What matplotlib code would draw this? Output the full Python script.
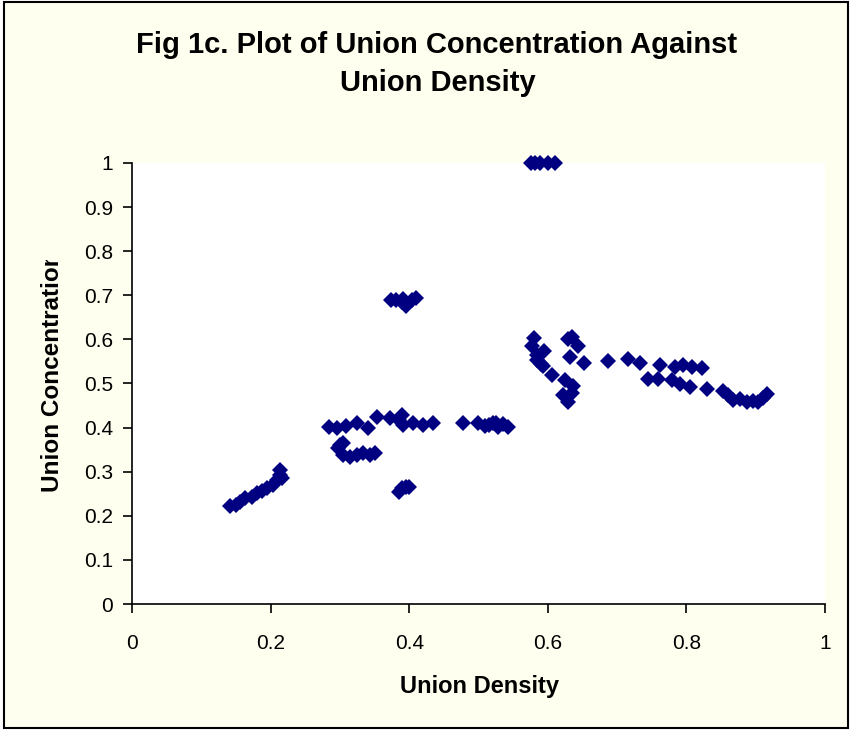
import matplotlib
matplotlib.use('Agg')
import numpy as np
from matplotlib import pyplot as plt
from matplotlib.patches import Rectangle
from matplotlib.transforms import Bbox, TransformedBbox

# data: union density (x) vs union concentration (y)
low_x = [0.141, 0.150, 0.156, 0.163, 0.173, 0.180, 0.188, 0.195, 0.204, 0.209, 0.214, 0.214, 0.216]
low_y = [0.222, 0.224, 0.231, 0.240, 0.243, 0.252, 0.256, 0.263, 0.270, 0.281, 0.293, 0.304, 0.286]

row40_x = [0.284, 0.296, 0.309, 0.325, 0.341, 0.354, 0.372, 0.385, 0.390, 0.391, 0.405, 0.420, 0.434]
row40_y = [0.401, 0.399, 0.404, 0.410, 0.399, 0.424, 0.422, 0.418, 0.429, 0.406, 0.410, 0.406, 0.410]

row34_x = [0.297, 0.300, 0.304, 0.304, 0.315, 0.325, 0.333, 0.343, 0.351]
row34_y = [0.354, 0.361, 0.365, 0.338, 0.333, 0.338, 0.342, 0.338, 0.342]

row26_x = [0.385, 0.390, 0.395, 0.400]
row26_y = [0.255, 0.262, 0.266, 0.266]

row69_x = [0.374, 0.381, 0.389, 0.391, 0.397, 0.404, 0.410, 0.395]
row69_y = [0.690, 0.690, 0.685, 0.692, 0.680, 0.690, 0.695, 0.675]

top_x = [0.576, 0.581, 0.589, 0.600, 0.610]
top_y = [1.0, 1.0, 1.0, 1.0, 1.0]

mid40_x = [0.478, 0.499, 0.509, 0.515, 0.521, 0.525, 0.528, 0.535, 0.543]
mid40_y = [0.410, 0.410, 0.404, 0.405, 0.410, 0.410, 0.401, 0.408, 0.401]

mid_x = [0.580, 0.577, 0.595, 0.584, 0.593, 0.606, 0.635, 0.629, 0.644, 0.632,
         0.652, 0.625, 0.636, 0.622, 0.629, 0.635, 0.585, 0.590]
mid_y = [0.603, 0.585, 0.574, 0.553, 0.540, 0.519, 0.606, 0.601, 0.585, 0.560,
         0.546, 0.508, 0.494, 0.474, 0.458, 0.478, 0.565, 0.545]

right_x = [0.687, 0.716, 0.733, 0.745, 0.759, 0.762, 0.779, 0.784, 0.791, 0.795,
           0.805, 0.808, 0.822, 0.830, 0.853, 0.860, 0.867, 0.877, 0.887, 0.896,
           0.903, 0.911, 0.916]
right_y = [0.551, 0.556, 0.546, 0.510, 0.510, 0.542, 0.508, 0.537, 0.499, 0.542,
           0.492, 0.537, 0.535, 0.488, 0.483, 0.474, 0.463, 0.465, 0.458, 0.460,
           0.458, 0.467, 0.476]

xs = low_x + row40_x + row34_x + row26_x + row69_x + top_x + mid40_x + mid_x + right_x
ys = low_y + row40_y + row34_y + row26_y + row69_y + top_y + mid40_y + mid_y + right_y

plt.rcParams['font.family'] = ['Liberation Sans', 'DejaVu Sans']

W, H = 852, 731
fig = plt.figure(figsize=(W / 100.0, H / 100.0), dpi=100)
fig.patch.set_facecolor('white')

# chart area (ivory with black frame)
fig.patches.append(Rectangle((4.0 / W, 3.0 / H), 844.0 / W, 726.0 / H,
                             transform=fig.transFigure, facecolor='#FFFFF0',
                             edgecolor='black', linewidth=1.5, zorder=-10))

ax = fig.add_axes([132.0 / W, (H - 604.0) / H, 693.0 / W, 441.0 / H])
ax.set_facecolor('white')
ax.plot(xs, ys, linestyle='none', marker='D', markersize=7.8,
        color='#000080', markeredgewidth=0, clip_on=False)

ax.set_xlim(0, 1)
ax.set_ylim(0, 1)
ax.set_xticks(np.arange(0, 1.01, 0.2))
ax.set_yticks(np.arange(0, 1.01, 0.1))
ax.set_xticklabels(['0', '0.2', '0.4', '0.6', '0.8', '1'])
ax.set_yticklabels(['0', '0.1', '0.2', '0.3', '0.4', '0.5', '0.6', '0.7', '0.8', '0.9', '1'])
for s in ['top', 'right']:
    ax.spines[s].set_visible(False)
for s in ['left', 'bottom']:
    ax.spines[s].set_linewidth(1.2)
ax.tick_params(axis='both', direction='out', length=6.5, width=1.2, labelsize=15)
ax.tick_params(axis='x', pad=15)
ax.tick_params(axis='y', pad=7)

# titles
fig.text(437.0 / W, (H - 45.0) / H, 'Fig 1c. Plot of Union Concentration Against',
         ha='center', va='center', fontsize=21, fontweight='bold')
fig.text(438.0 / W, (H - 83.0) / H, 'Union Density',
         ha='center', va='center', fontsize=21, fontweight='bold')
fig.text(480.0 / W, (H - 686.0) / H, 'Union Density',
         ha='center', va='center', fontsize=17, fontweight='bold')

yl = fig.text(52.5 / W, (H - 492.0) / H, 'Union Concentration', rotation=90,
              ha='center', va='bottom', fontsize=17.5, fontweight='bold')
yl.set_clip_box(TransformedBbox(Bbox([[0, 0], [1, (H - 260.0) / H]]), fig.transFigure))
yl.set_clip_on(True)

fig.savefig('out.png', dpi=100)
